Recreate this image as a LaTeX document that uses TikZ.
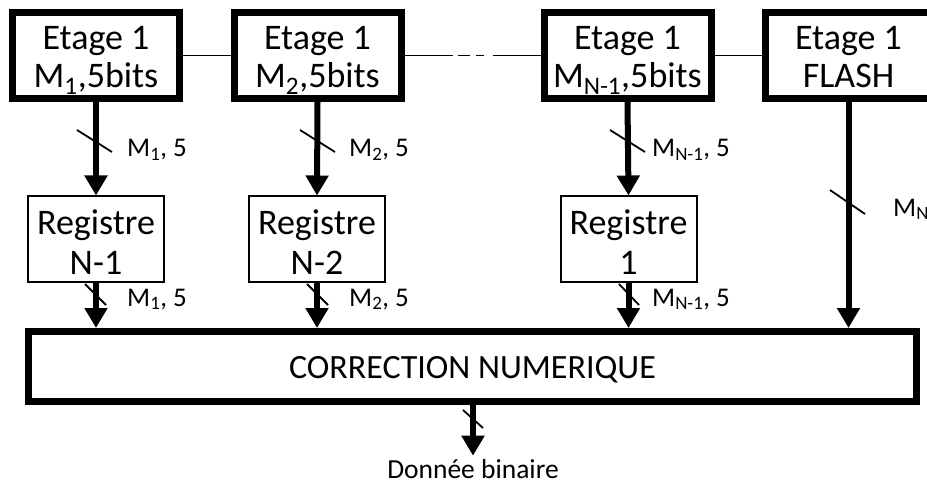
\documentclass[tikz,border=0pt]{standalone}
\usepackage{fontspec}
\setmainfont{Carlito}
\usetikzlibrary{arrows.meta}
\newcommand{\topstrut}[1]{\rule{0pt}{#1}}
\newcommand{\botstrut}{\rule[-6pt]{0pt}{6pt}}
\begin{document}
\begin{tikzpicture}[x=1pt,y=-1pt,
  etage/.style={draw, line width=7pt, minimum width=167pt, minimum height=86pt, inner sep=0pt, align=center, font=\fontsize{36}{38}\selectfont},
  reg/.style={draw, line width=2pt, minimum width=136pt, minimum height=85pt, inner sep=0pt, align=center, font=\fontsize{36}{40}\selectfont},
  corr/.style={draw, line width=7pt, minimum width=888pt, minimum height=70pt, inner sep=0pt, text height=23pt, text depth=0pt, font=\fontsize{34}{40}\selectfont},
  bus/.style={line width=6pt, -{Triangle[length=20pt,width=22pt]}},
  link/.style={line width=1.8pt},
  slashst/.style={line width=1.8pt},
  lbl/.style={inner sep=0pt, font=\fontsize{27}{30}\selectfont},
  outlbl/.style={inner sep=3pt, font=\fontsize{27.5}{30}\selectfont}]
\useasboundingbox (0,0) rectangle (927,484);
% stages
\node[etage] (b1) at (96,55.5) {\topstrut{33pt}Etage 1\\M\textsubscript{1},5bits\botstrut};
\node[etage] (b2) at (317.5,55.5) {\topstrut{33pt}Etage 1\\M\textsubscript{2},5bits\botstrut};
\node[etage] (b3) at (627.5,55.5) {\topstrut{33pt}Etage 1\\M\textsubscript{N-1},5bits\botstrut};
\node[etage] (b4) at (848.5,55.5) {\topstrut{33pt}Etage 1\\FLASH\botstrut};
% registers
\node[reg] (r1) at (96,239) {\topstrut{31pt}Registre\\N-1};
\node[reg] (r2) at (317,239) {\topstrut{31pt}Registre\\N-2};
\node[reg] (r3) at (628.5,239) {\topstrut{31pt}Registre\\1};
% correction
\node[corr] (c) at (472.5,366.5) {CORRECTION NUMERIQUE};
\node[outlbl, anchor=base] (out) at (473,478) {Donnée binaire};
% links between stages
\draw[link] (b1.east) -- (b2.west);
\draw[link, dash pattern=on 48.5pt off 5pt on 12pt off 6pt on 8pt off 9pt on 200pt] (b2.east) -- (b3.west);
\draw[link] (b3.east) -- (b4.west);
% buses
\draw[bus] (b1.south) -- (r1.north);
\draw[bus] (b2.south) -- (r2.north);
\draw[bus] (b3.south) -- (r3.north);
\draw[bus] (b4.south) -- (b4.south |- c.north);
\draw[bus] (r1.south) -- (r1.south |- c.north);
\draw[bus] (r2.south) -- (r2.south |- c.north);
\draw[bus] (r3.south) -- (r3.south |- c.north);
\draw[bus] (c.south -| out.north) -- (out.north);
% slashes
\draw[slashst] (77,130) -- (112,152);
\draw[slashst] (300,130) -- (335,152);
\draw[slashst] (610,130) -- (645,152);
\draw[slashst] (830,190) -- (865,214);
\draw[slashst] (85,284) -- (106,305);
\draw[slashst] (307,284) -- (328,305);
\draw[slashst] (619,284) -- (639,305);
\draw[slashst] (463,410) -- (483,428);
% labels
\node[lbl, anchor=base west] at (127,157) {M\textsubscript{1}, 5};
\node[lbl, anchor=base west] at (349,157) {M\textsubscript{2}, 5};
\node[lbl, anchor=base west] at (652,157) {M\textsubscript{N-1}, 5};
\node[lbl, anchor=base west] at (893,216) {M\textsubscript{N}};
\node[lbl, anchor=base west] at (127,306) {M\textsubscript{1}, 5};
\node[lbl, anchor=base west] at (349,306) {M\textsubscript{2}, 5};
\node[lbl, anchor=base west] at (652,306) {M\textsubscript{N-1}, 5};
\end{tikzpicture}
\end{document}
